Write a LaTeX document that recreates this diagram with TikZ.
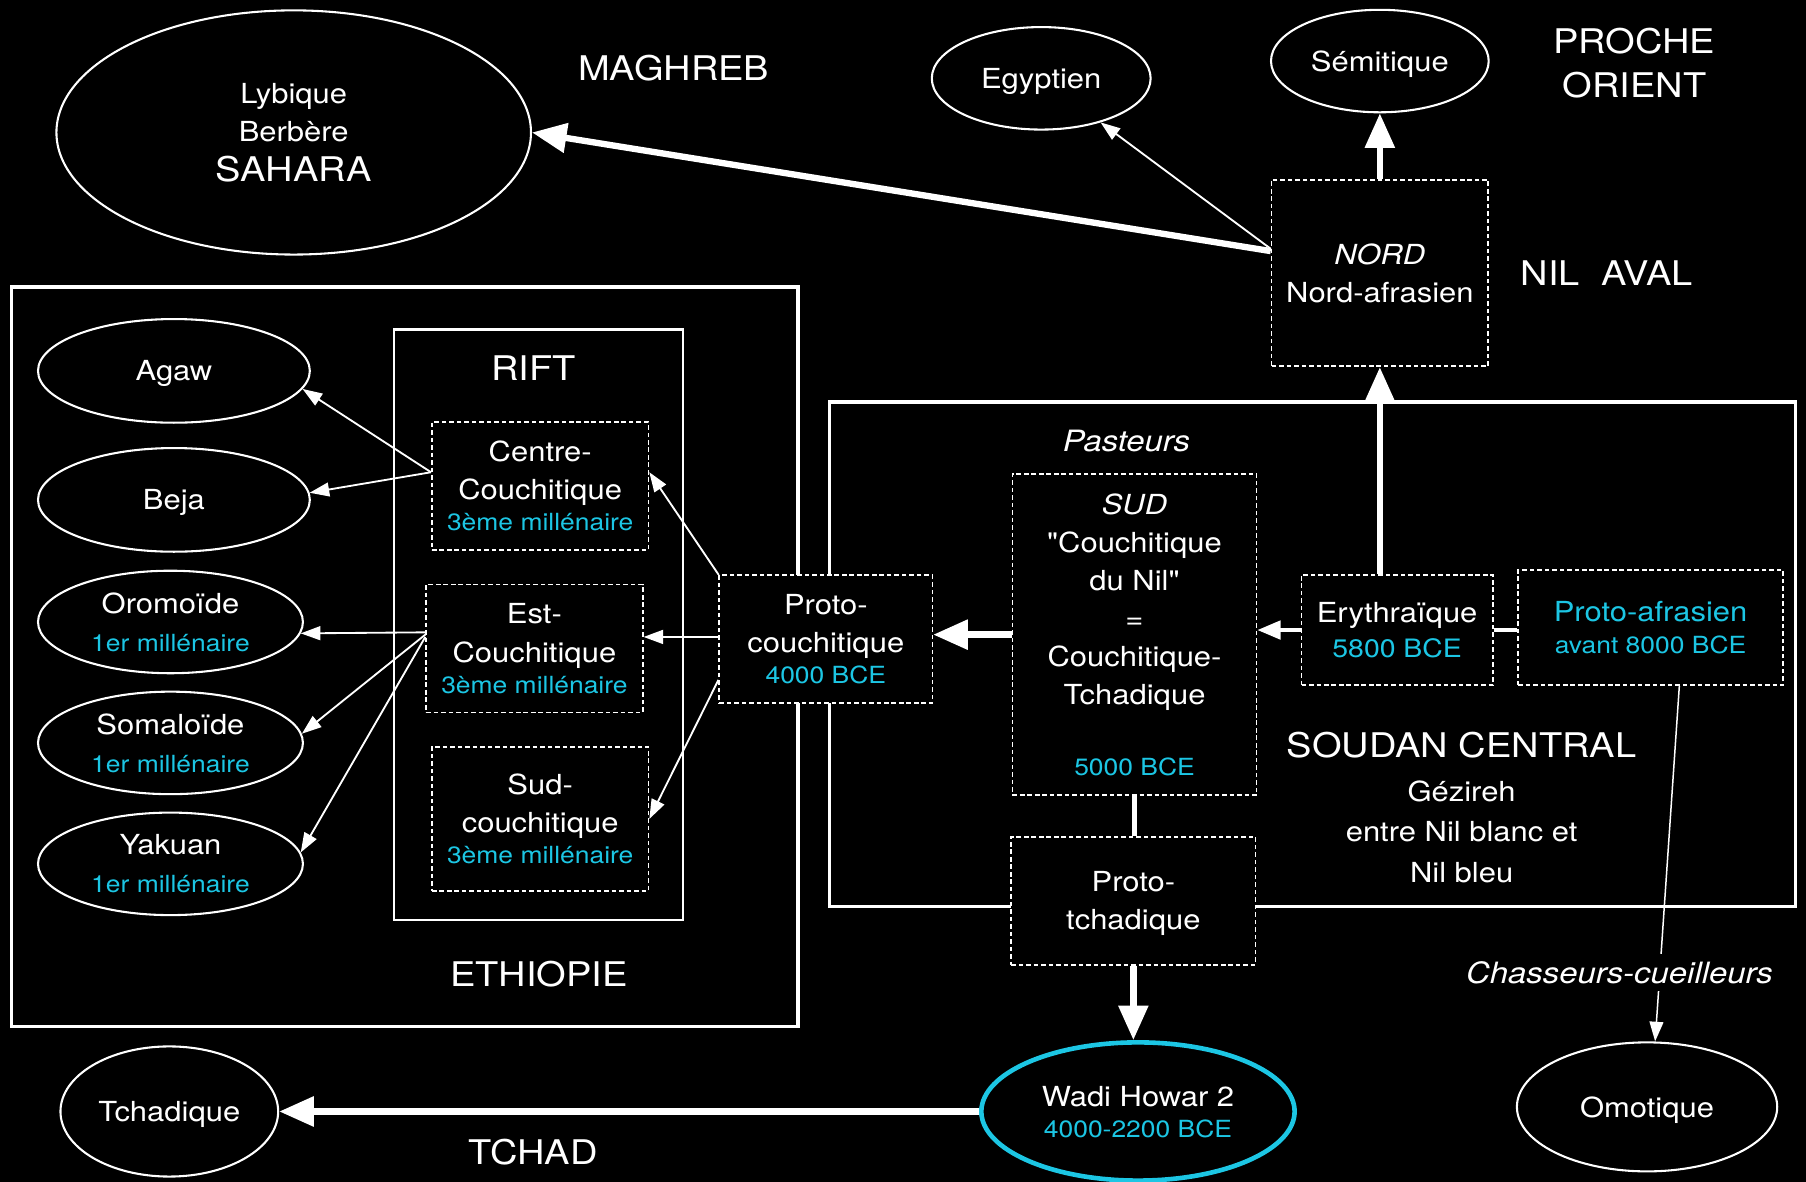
\documentclass[tikz,border=0pt]{standalone}
\usepackage{fontspec}
\setmainfont{TeX Gyre Heros}[FakeStretch=1.12,Ligatures=TeXOff]
\usepackage{xcolor}
\usepackage{tikz}
\usetikzlibrary{arrows.meta,shapes.geometric}
\definecolor{mainc}{HTML}{FFFFFF}
\definecolor{datec}{HTML}{1CC6E4}
\newcommand{\fsz}[2]{\fontsize{#1}{#2}\selectfont}
\newcommand{\dt}[1]{{\color{datec}\fsz{20.5}{29}#1}}
\tikzset{
  reg/.style={draw=mainc,line width=3pt},
  box/.style={draw=mainc,line width=1.5pt,dash pattern=on 4pt off 2.5pt,fill=black,align=center,inner sep=0pt,text depth=0pt},
  ell/.style={ellipse,draw=mainc,line width=1.8pt,fill=black,align=center,inner sep=0pt,text depth=0pt},
  lbl/.style={align=center,font=\fsz{29.5}{38}},
  ar/.style={-{Triangle[length=17pt,width=12pt]},mainc,line width=1.6pt},
  mar/.style={-{Triangle[length=20pt,width=16pt]},mainc,line width=3pt},
  bar/.style={-{Triangle[length=30pt,width=25pt]},mainc,line width=5.5pt}
}
\begin{document}
\begin{tikzpicture}[x=1pt,y=-1pt,font=\fsz{24}{33},text=mainc]
\fill[black] (0,0) rectangle (1568,1026);
\useasboundingbox (0,0) rectangle (1568,1026);
% regions
\draw[reg] (10,249) rectangle (693,891);
\draw[reg,line width=2pt] (342,286) rectangle (593,799);
\draw[reg] (720,349) rectangle (1559,787);
\node[lbl] (maghreb) at (585,59) {MAGHREB};
\node[lbl] (proche) at (1419,55) {PROCHE\\ORIENT};
\node[lbl] (nilaval) at (1395,237) {NIL~~AVAL};
\node[lbl] (rift) at (463,320) {RIFT};
\node[lbl] (ethiopie) at (468,846) {ETHIOPIE};
\node[lbl] (tchad) at (463,1000) {TCHAD};
\node[font=\fsz{25.5}{33}\itshape] (pasteurs) at (978,383) {Pasteurs};
\node[align=center,font=\fsz{24}{35}] (soudan) at (1269,701) {{\fsz{29.5}{35}SOUDAN CENTRAL}\\[3pt]Gézireh\\entre Nil blanc et\\Nil bleu};
% languages
\node[ell,minimum width=412pt,minimum height=212pt] (sahara) at (255,115) {Lybique\\Berbère\\[2pt]{\fsz{29.5}{35}SAHARA}};
\node[ell,minimum width=190pt,minimum height=89pt] (egy) at (904,68) {Egyptien};
\node[ell,minimum width=189pt,minimum height=89pt] (sem) at (1198,53) {Sémitique};
\node[ell,minimum width=236pt,minimum height=90pt] (agaw) at (151,322) {Agaw};
\node[ell,minimum width=236pt,minimum height=90pt] (beja) at (151,434) {Beja};
\foreach \n/\y/\t in {oro/540/Oromoïde,som/645/Somaloïde,yak/750/Yakuan}
  \node[ell,minimum width=230pt,minimum height=89pt] (\n) at (148,\y) {\t\\\dt{1er millénaire}};
\node[ell,minimum width=189pt,minimum height=113pt] (tch) at (147,965) {Tchadique};
\node[ell,minimum width=226pt,minimum height=112pt] (omo) at (1430,961) {Omotique};
\node[ell,draw=datec,line width=4pt,minimum width=272pt,minimum height=120pt] (wadi) at (988,965) {Wadi Howar 2\\[-6pt]\dt{4000-2200 BCE}};
% stages
\node[box,minimum width=188pt,minimum height=162pt] (nord) at (1198,237) {\textit{NORD}\\Nord-afrasien};
\node[box,minimum width=188pt,minimum height=111pt] (cc) at (469,422) {Centre-\\Couchitique\\[-6pt]\dt{3ème millénaire}};
\node[box,minimum width=188pt,minimum height=111pt] (ec) at (464,563) {Est-\\Couchitique\\[-6pt]\dt{3ème millénaire}};
\node[box,minimum width=188pt,minimum height=125pt] (sc) at (469,711) {Sud-\\couchitique\\[-6pt]\dt{3ème millénaire}};
\node[box,minimum width=185pt,minimum height=111pt] (pc) at (717,555) {Proto-\\couchitique\\[-6pt]\dt{4000 BCE}};
\node[box,minimum width=212pt,minimum height=279pt] (sud) at (985,551) {\textit{SUD}\\"Couchitique\\du Nil"\\=\\Couchitique-\\Tchadique\\[29pt]\dt{5000 BCE}};
\node[box,minimum width=166pt,minimum height=96pt] (ery) at (1213,547) {Erythraïque\\[-2pt]{\color{datec}\fsz{22}{29}5800 BCE}};
\node[box,text=datec,minimum width=230pt,minimum height=100pt] (pa) at (1433,545) {Proto-afrasien\\[-5pt]{\fsz{20.5}{29}avant 8000 BCE}};
\node[box,minimum width=212pt,minimum height=111pt] (pt) at (984,782) {Proto-\\tchadique};
% links
\draw[bar] ([yshift=19pt]nord.west) -- (sahara.east);
\draw[ar] ([yshift=21pt]nord.west) -- (egy);
\draw[bar] (nord.north) -- (sem.south);
\draw[bar] (ery.north -| nord.south) -- (nord.south);
\draw[mar] (ery.west) -- (ery.west -| sud.east);
\draw[mainc,line width=3pt] (ery.east) -- (ery.east -| pa.west);
\draw[bar] (sud.west) -- (sud.west -| pc.east);
\draw[mainc,line width=4pt] (sud.south) -- (sud.south |- pt.north);
\draw[bar] (pt.south) -- (pt.south |- wadi.north);
\draw[bar] (wadi.west) -- (tch.east);
\draw[ar] (pc.north west) -- ([yshift=12pt]cc.east);
\draw[ar,line width=2pt] ([yshift=2pt]pc.west) -- ([yshift=2pt]pc.west -| ec.east);
\draw[ar] ([yshift=21pt]pc.south west) -- (sc.east);
\draw[ar] ([yshift=12pt]cc.west) -- (agaw.-8);
\draw[ar] ([yshift=12pt]cc.west) -- (beja.3);
\foreach \n/\a/\s in {oro/-5/14,som/4/12,yak/5/10}
  \draw[ar] ([yshift=\s pt]ec.west) -- (\n.\a);
\draw[ar,line width=1.3pt] ([xshift=25pt]pa.south) -- node[pos=0.806,xshift=-35pt,fill=black,inner ysep=6pt,font=\fsz{25.5}{33}\itshape] (chasseurs) {Chasseurs-cueilleurs} ([xshift=7pt]omo.north);
\end{tikzpicture}
\end{document}
